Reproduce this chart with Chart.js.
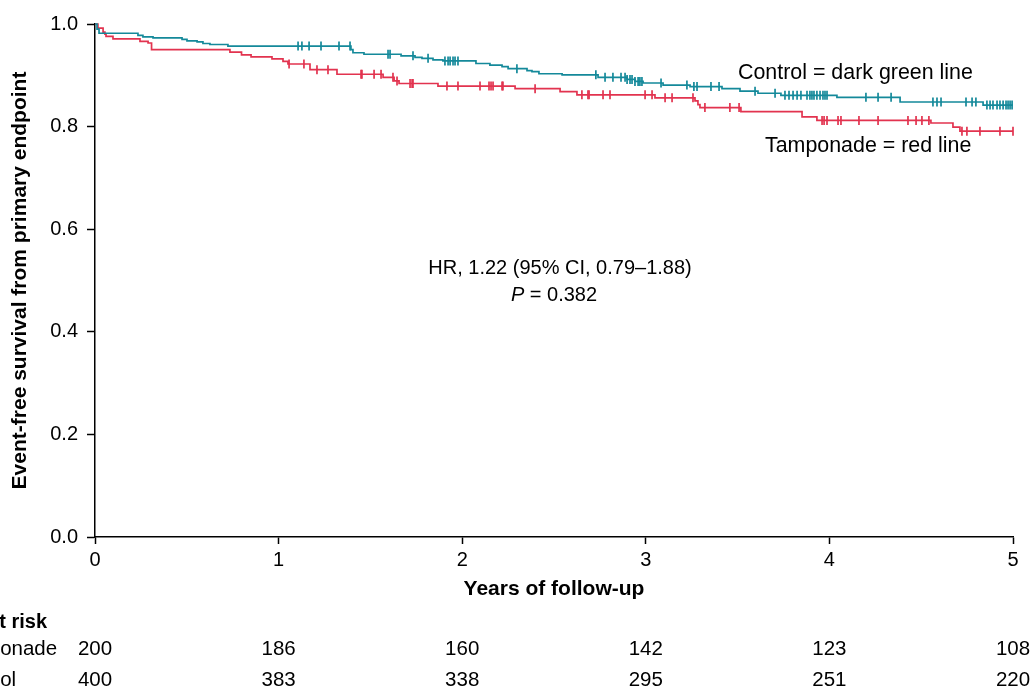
<!DOCTYPE html>
<html>
<head>
<meta charset="utf-8">
<script src="https://cdn.jsdelivr.net/npm/chart.js@4.4.1/dist/chart.umd.min.js"></script>
<style>
  html, body { margin: 0; padding: 0; background: #fff; }
  canvas { display: block; }
</style>
</head>
<body>
<canvas id="c" width="1032" height="691"></canvas>
<script>
// ---------- data ----------
const controlTimes = [0, 0.011, 0.022, 0.234, 0.261, 0.316, 0.474, 0.501, 0.556, 0.588, 0.626, 0.724, 1.394, 1.405, 1.465, 1.667, 1.743, 1.781, 1.841, 1.895, 2.075, 2.151, 2.217, 2.250, 2.353, 2.380, 2.418, 2.544, 2.740, 2.898, 2.941, 2.985, 3.094, 3.241, 3.415, 3.513, 3.611, 3.736, 4.041, 4.385, 4.837, 5.0];
const controlSurv  = [1.0, 0.990, 0.982, 0.978, 0.975, 0.973, 0.970, 0.967, 0.965, 0.962, 0.960, 0.957, 0.950, 0.944, 0.941, 0.938, 0.935, 0.933, 0.930, 0.928, 0.923, 0.920, 0.917, 0.913, 0.909, 0.907, 0.903, 0.901, 0.896, 0.892, 0.888, 0.885, 0.881, 0.878, 0.874, 0.869, 0.865, 0.861, 0.857, 0.848, 0.842, 0.842];
const controlCensored = [1.106, 1.127, 1.166, 1.231, 1.329, 1.389, 1.596, 1.607, 1.732, 1.814, 1.906, 1.923, 1.934, 1.950, 1.961, 1.977, 2.298, 2.728, 2.778, 2.821, 2.865, 2.887, 2.898, 2.914, 2.925, 2.941, 2.958, 2.968, 2.979, 3.083, 3.224, 3.262, 3.279, 3.355, 3.399, 3.595, 3.704, 3.758, 3.780, 3.802, 3.824, 3.845, 3.878, 3.894, 3.905, 3.916, 3.932, 3.949, 3.965, 3.976, 3.987, 4.199, 4.265, 4.336, 4.564, 4.586, 4.608, 4.744, 4.777, 4.798, 4.858, 4.875, 4.891, 4.913, 4.929, 4.946, 4.962, 4.973, 4.984, 4.995];

const tampTimes = [0, 0.016, 0.044, 0.054, 0.060, 0.098, 0.245, 0.289, 0.308, 0.735, 0.798, 0.850, 0.964, 1.024, 1.051, 1.171, 1.318, 1.569, 1.629, 1.656, 1.868, 2.288, 2.533, 2.625, 3.050, 3.268, 3.284, 3.295, 3.518, 3.851, 3.932, 4.553, 4.673, 4.711, 5.0];
const tampSurv  = [1.0, 0.992, 0.984, 0.980, 0.976, 0.971, 0.966, 0.963, 0.950, 0.945, 0.940, 0.936, 0.932, 0.927, 0.922, 0.911, 0.902, 0.896, 0.889, 0.884, 0.879, 0.874, 0.868, 0.862, 0.856, 0.850, 0.843, 0.837, 0.829, 0.819, 0.812, 0.807, 0.799, 0.791, 0.791];
const tampCensored = [1.057, 1.138, 1.209, 1.269, 1.449, 1.454, 1.520, 1.558, 1.623, 1.645, 1.716, 1.727, 1.732, 1.917, 1.977, 2.097, 2.146, 2.157, 2.168, 2.217, 2.222, 2.397, 2.652, 2.685, 2.691, 2.767, 2.805, 2.996, 3.034, 3.105, 3.143, 3.257, 3.322, 3.458, 3.508, 3.960, 3.971, 3.987, 4.047, 4.063, 4.161, 4.265, 4.428, 4.472, 4.504, 4.542, 4.722, 4.749, 4.820, 4.929, 5.0];

const atRiskTimes = [0, 1, 2, 3, 4, 5];
const atRiskTamponade = [200, 186, 160, 142, 123, 108];
const atRiskControl = [400, 383, 338, 295, 251, 220];

const xTicks = [0, 1, 2, 3, 4, 5];
const yTicks = [0.0, 0.2, 0.4, 0.6, 0.8, 1.0];

// ---------- helpers ----------
function stepPoints(times, surv) {
  return times.map((t, i) => ({ x: t, y: surv[i] }));
}
function survAt(times, surv, t) {
  let v = surv[0];
  for (let i = 0; i < times.length; i++) if (times[i] <= t + 1e-9) v = surv[i];
  return v;
}
function censorPoints(cens, times, surv) {
  return cens.map(t => ({ x: t, y: survAt(times, surv, t) }));
}

const TEAL = '#14899a';
const RED = '#e2334f';
const FONT = "'Liberation Sans', Arial, sans-serif";

const textPlugin = {
  id: 'texts',
  afterDraw(chart) {
    const ctx = chart.ctx;
    const xs = chart.scales.x;
    ctx.save();
    ctx.fillStyle = '#000';
    ctx.textBaseline = 'middle';

    ctx.font = `21.4px ${FONT}`;
    ctx.textAlign = 'left';
    ctx.fillText('Control = dark green line', 738, 73);
    ctx.fillText('Tamponade = red line', 765, 146);

    ctx.font = `20px ${FONT}`;
    ctx.textAlign = 'center';
    ctx.fillText('HR, 1.22 (95% CI, 0.79\u20131.88)', 560, 268);

    // P = 0.382 with italic P
    const rest = ' = 0.382';
    ctx.font = `italic 20px ${FONT}`;
    const wP = ctx.measureText('P').width;
    ctx.font = `20px ${FONT}`;
    const wR = ctx.measureText(rest).width;
    const start = 554 - (wP + wR) / 2;
    ctx.textAlign = 'left';
    ctx.font = `italic 20px ${FONT}`;
    ctx.fillText('P', start, 295);
    ctx.font = `20px ${FONT}`;
    ctx.fillText(rest, start + wP, 295);

    // number at risk table
    ctx.font = `bold 20px ${FONT}`;
    ctx.textAlign = 'right';
    ctx.fillText('Number at risk', 47, 622);
    ctx.font = `20.5px ${FONT}`;
    ctx.textAlign = 'left';
    ctx.fillText('Tamponade', -50, 649);
    ctx.fillText('Control', -50, 680);
    ctx.textAlign = 'center';
    atRiskTimes.forEach((t, i) => {
      const px = xs.getPixelForValue(t);
      ctx.fillText(String(atRiskTamponade[i]), px, 649);
      ctx.fillText(String(atRiskControl[i]), px, 680);
    });
    ctx.restore();
  }
};

new Chart(document.getElementById('c'), {
  type: 'line',
  data: {
    datasets: [
      { label: 'Control', data: stepPoints(controlTimes, controlSurv), borderColor: TEAL, borderWidth: 1.7, stepped: true, pointRadius: 0, fill: false, clip: 10 },
      { label: 'Tamponade', data: stepPoints(tampTimes, tampSurv), borderColor: RED, borderWidth: 1.7, stepped: true, pointRadius: 0, fill: false, clip: 10 },
      { label: 'Control censored', data: censorPoints(controlCensored, controlTimes, controlSurv), showLine: false, pointStyle: 'line', rotation: 90, pointRadius: 4.5, pointBorderColor: TEAL, pointBorderWidth: 1.7, pointBackgroundColor: TEAL, clip: 10 },
      { label: 'Tamponade censored', data: censorPoints(tampCensored, tampTimes, tampSurv), showLine: false, pointStyle: 'line', rotation: 90, pointRadius: 4.5, pointBorderColor: RED, pointBorderWidth: 1.7, pointBackgroundColor: RED, clip: 10 }
    ]
  },
  options: {
    responsive: false,
    devicePixelRatio: 1,
    animation: false,
    events: [],
    layout: { padding: { left: 10, top: 24, right: 19, bottom: 91 } },
    plugins: { legend: { display: false }, tooltip: { enabled: false } },
    scales: {
      x: {
        type: 'linear', min: 0, max: 5,
        afterBuildTicks: (s) => { s.ticks = xTicks.map(v => ({ value: v })); },
        afterFit: (s) => { s.height = 63; },
        ticks: { color: '#000', font: { family: FONT, size: 20 }, padding: 4, callback: (v) => String(v), maxRotation: 0 },
        grid: { display: true, drawOnChartArea: false, drawTicks: true, tickLength: 7, tickColor: '#000', tickWidth: 1.5 },
        border: { display: true, color: '#000', width: 1.5 },
        title: { display: true, text: 'Years of follow-up', color: '#000', font: { family: FONT, size: 21, weight: 'bold', lineHeight: 1 }, padding: 0 }
      },
      y: {
        type: 'linear', min: 0, max: 1,
        afterBuildTicks: (s) => { s.ticks = yTicks.map(v => ({ value: v })); },
        afterFit: (s) => { s.width = 85; },
        ticks: { color: '#000', font: { family: FONT, size: 20 }, padding: 9, callback: (v) => Number(v).toFixed(1) },
        grid: { display: true, drawOnChartArea: false, drawTicks: true, tickLength: 8, tickColor: '#000', tickWidth: 1.5 },
        border: { display: true, color: '#000', width: 1.5 },
        title: { display: true, text: 'Event-free survival from primary endpoint', color: '#000', font: { family: FONT, size: 21, weight: 'bold', lineHeight: 1 }, padding: 0 }
      }
    }
  },
  plugins: [textPlugin]
});
</script>
</body>
</html>
